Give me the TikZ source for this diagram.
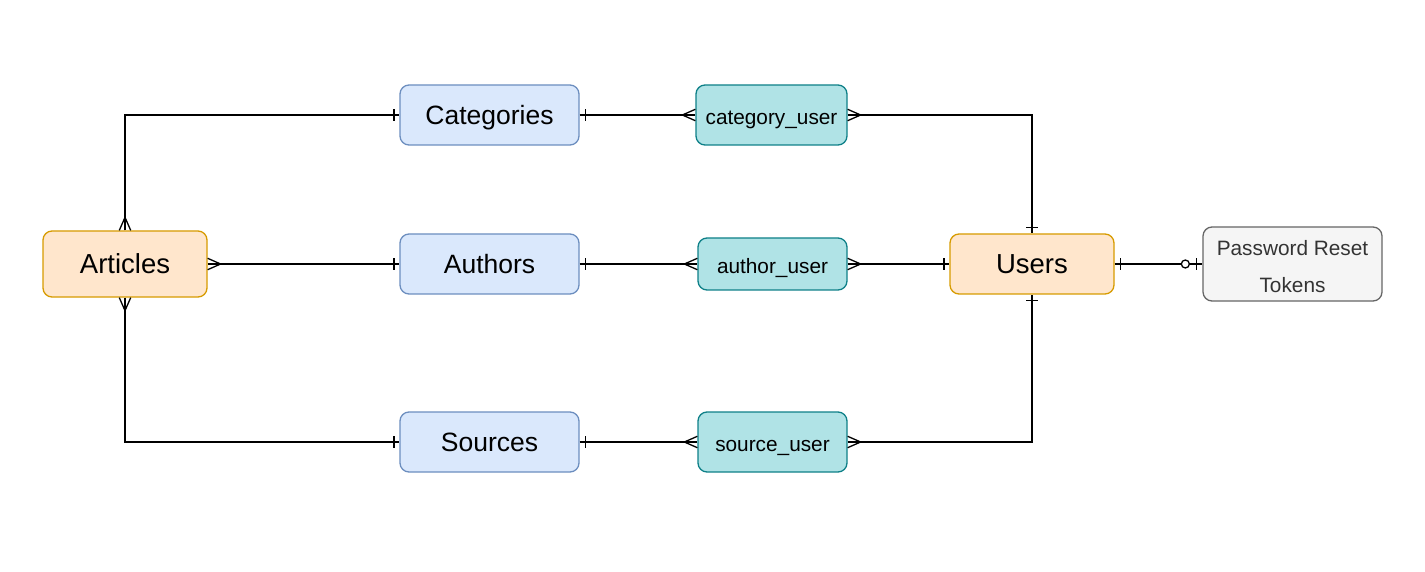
\documentclass[tikz,border=0pt]{standalone}
\usepackage{fontspec}
\setmainfont{Liberation Sans}
\usetikzlibrary{decorations.markings}
\definecolor{orfill}{HTML}{FFE6CC}
\definecolor{ordraw}{HTML}{D79B00}
\definecolor{blfill}{HTML}{DAE8FC}
\definecolor{bldraw}{HTML}{6C8EBF}
\definecolor{tefill}{HTML}{B0E3E6}
\definecolor{tedraw}{HTML}{0E8088}
\definecolor{grfill}{HTML}{F5F5F5}
\definecolor{grdraw}{HTML}{666666}
\definecolor{grtext}{HTML}{333333}
\tikzset{
  entbox/.style={draw, line width=1.3pt, rounded corners=9pt, inner sep=0pt, anchor=center},
  mainent/.style={entbox, fill=orfill, draw=ordraw, minimum width=164pt, minimum height=60pt, text height=19pt, text depth=0pt, font=\fontsize{27.5}{33}\selectfont},
  subent/.style={entbox, fill=blfill, draw=bldraw, minimum width=179pt, minimum height=60pt, text height=18.5pt, text depth=0pt, font=\fontsize{26.5}{32}\selectfont},
  linkent/.style={entbox, fill=tefill, draw=tedraw, minimum width=150pt, minimum height=59pt, text height=19.5pt, text depth=0pt, font=\fontsize{20.8}{25}\selectfont},
  tokent/.style={entbox, fill=grfill, draw=grdraw, text=grtext, minimum width=179pt, minimum height=74pt, align=center, text height=58pt, text depth=0pt, font=\fontsize{20.8}{37}\selectfont},
  rel/.style={draw=black, line width=1.3pt},
  onestart/.style={postaction={decorate, decoration={markings, mark=at position 5.5pt with {\draw (0,-5.7pt) -- (0,5.7pt);}}}},
  oneend/.style={postaction={decorate, decoration={markings, mark=at position -5.5pt with {\draw (0,-5.7pt) -- (0,5.7pt);}}}},
  manystart/.style={postaction={decorate, decoration={markings, mark=at position 13pt with {\draw (-13pt,5.7pt) -- (0,0) -- (-13pt,-5.7pt);}}}},
  manyend/.style={postaction={decorate, decoration={markings, mark=at position -13pt with {\draw (13pt,5.7pt) -- (0,0) -- (13pt,-5.7pt);}}}},
  zerooneend/.style={postaction={decorate, decoration={markings, mark=at position -6pt with {\draw (0,-5.7pt) -- (0,5.7pt);}, mark=at position -17pt with {\draw[fill=white] (0,0) circle (4pt);}}}}
}
\begin{document}
\begin{tikzpicture}[x=1pt,y=-1pt]
\useasboundingbox (0,0) rectangle (1425,572);
\node[mainent, minimum height=66pt] (art) at (125,264) {Articles};
\node[subent] (cat) at (489.5,115) {Categories};
\node[subent] (aut) at (489.5,264) {Authors};
\node[subent] (src) at (489.5,442) {Sources};
\node[linkent, minimum width=151pt, minimum height=60pt] (cu) at (771.5,115) {category\_user};
\node[linkent, minimum width=149pt, minimum height=52pt] (au) at (772.5,264) {author\_user};
\node[linkent, minimum width=149pt, minimum height=60pt] (su) at (772.5,442) {source\_user};
\node[mainent] (usr) at (1032,264) {Users};
\node[tokent] (prt) at (1292.5,264) {Password Reset\\Tokens};

\path[rel, manystart, oneend] (art.north) |- (cat.west);
\path[rel, manystart, oneend] (art.east) -- (aut.west);
\path[rel, manystart, oneend] (art.south) |- (src.west);
\path[rel, onestart, manyend] (cat.east) -- (cu.west);
\path[rel, onestart, manyend] (aut.east) -- (au.west);
\path[rel, onestart, manyend] (src.east) -- (su.west);
\path[rel, manystart, oneend] (cu.east) -| (usr.north);
\path[rel, manystart, oneend] (au.east) -- (usr.west);
\path[rel, manystart, oneend] (su.east) -| (usr.south);
\path[rel, onestart, zerooneend] (usr.east) -- (prt.west);
\end{tikzpicture}
\end{document}
